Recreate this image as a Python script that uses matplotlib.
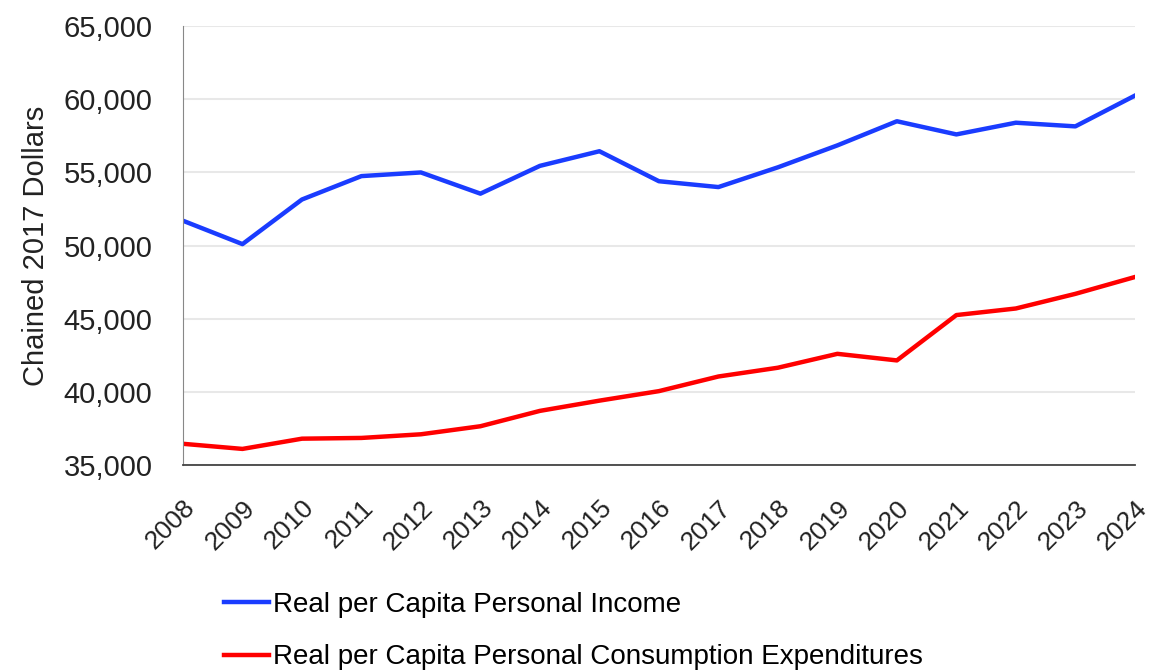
import numpy as np
import matplotlib as mpl
import matplotlib.pyplot as plt
from matplotlib.ticker import FuncFormatter

years = list(range(2008, 2025))
income = [51700, 50100, 53150, 54750, 55000, 53550, 55450, 56450, 54400,
          54000, 55350, 56850, 58500, 57600, 58400, 58150, 60250]
consumption = [36450, 36100, 36800, 36850, 37100, 37650, 38700, 39400, 40050,
               41050, 41650, 42600, 42150, 45250, 45700, 46700, 47850]
y_ticks = [35000, 40000, 45000, 50000, 55000, 60000, 65000]

plt.rcParams['font.family'] = ['Liberation Sans', 'DejaVu Sans']

fig = plt.figure(figsize=(11.58, 6.71), dpi=100)
ax = fig.add_axes([0.158, 0.307, 0.822, 0.654])

ax.plot(years, income, color='#1a3cff', linewidth=3.2, label='Real per Capita Personal Income')
ax.plot(years, consumption, color='#ff0000', linewidth=3.2,
        label='Real per Capita Personal Consumption Expenditures')

ax.set_xlim(2008, 2024)
ax.set_ylim(35000, 65000)
ax.set_yticks(y_ticks)
ax.yaxis.set_major_formatter(FuncFormatter(lambda v, p: f'{int(v):,}'))
ax.set_xticks(years)
ax.set_xticklabels([str(y) for y in years], rotation=45, ha='right', va='top',
                   rotation_mode='anchor', fontsize=19, color='#222222')
ax.tick_params(axis='y', labelsize=21, colors='#222222', length=0, pad=22)
ax.tick_params(axis='x', length=0, pad=22)

ax.grid(axis='y', color='#e8e8e8', linewidth=1.5)
ax.set_axisbelow(True)
for s in ['top', 'right']:
    ax.spines[s].set_visible(False)
ax.spines['left'].set_color('#888888')
ax.spines['bottom'].set_color('#444444')
ax.spines['bottom'].set_linewidth(1.3)

ax.set_ylabel('Chained 2017 Dollars', fontsize=21, color='#222222', labelpad=10)

handles, labels = ax.get_legend_handles_labels()
fig.legend(handles, labels, loc='upper left', bbox_to_anchor=(0.172, 0.155),
           frameon=False, fontsize=20, handlelength=1.6, handletextpad=0.15,
           labelspacing=0.95)

fig.savefig('out.png', dpi=100)
